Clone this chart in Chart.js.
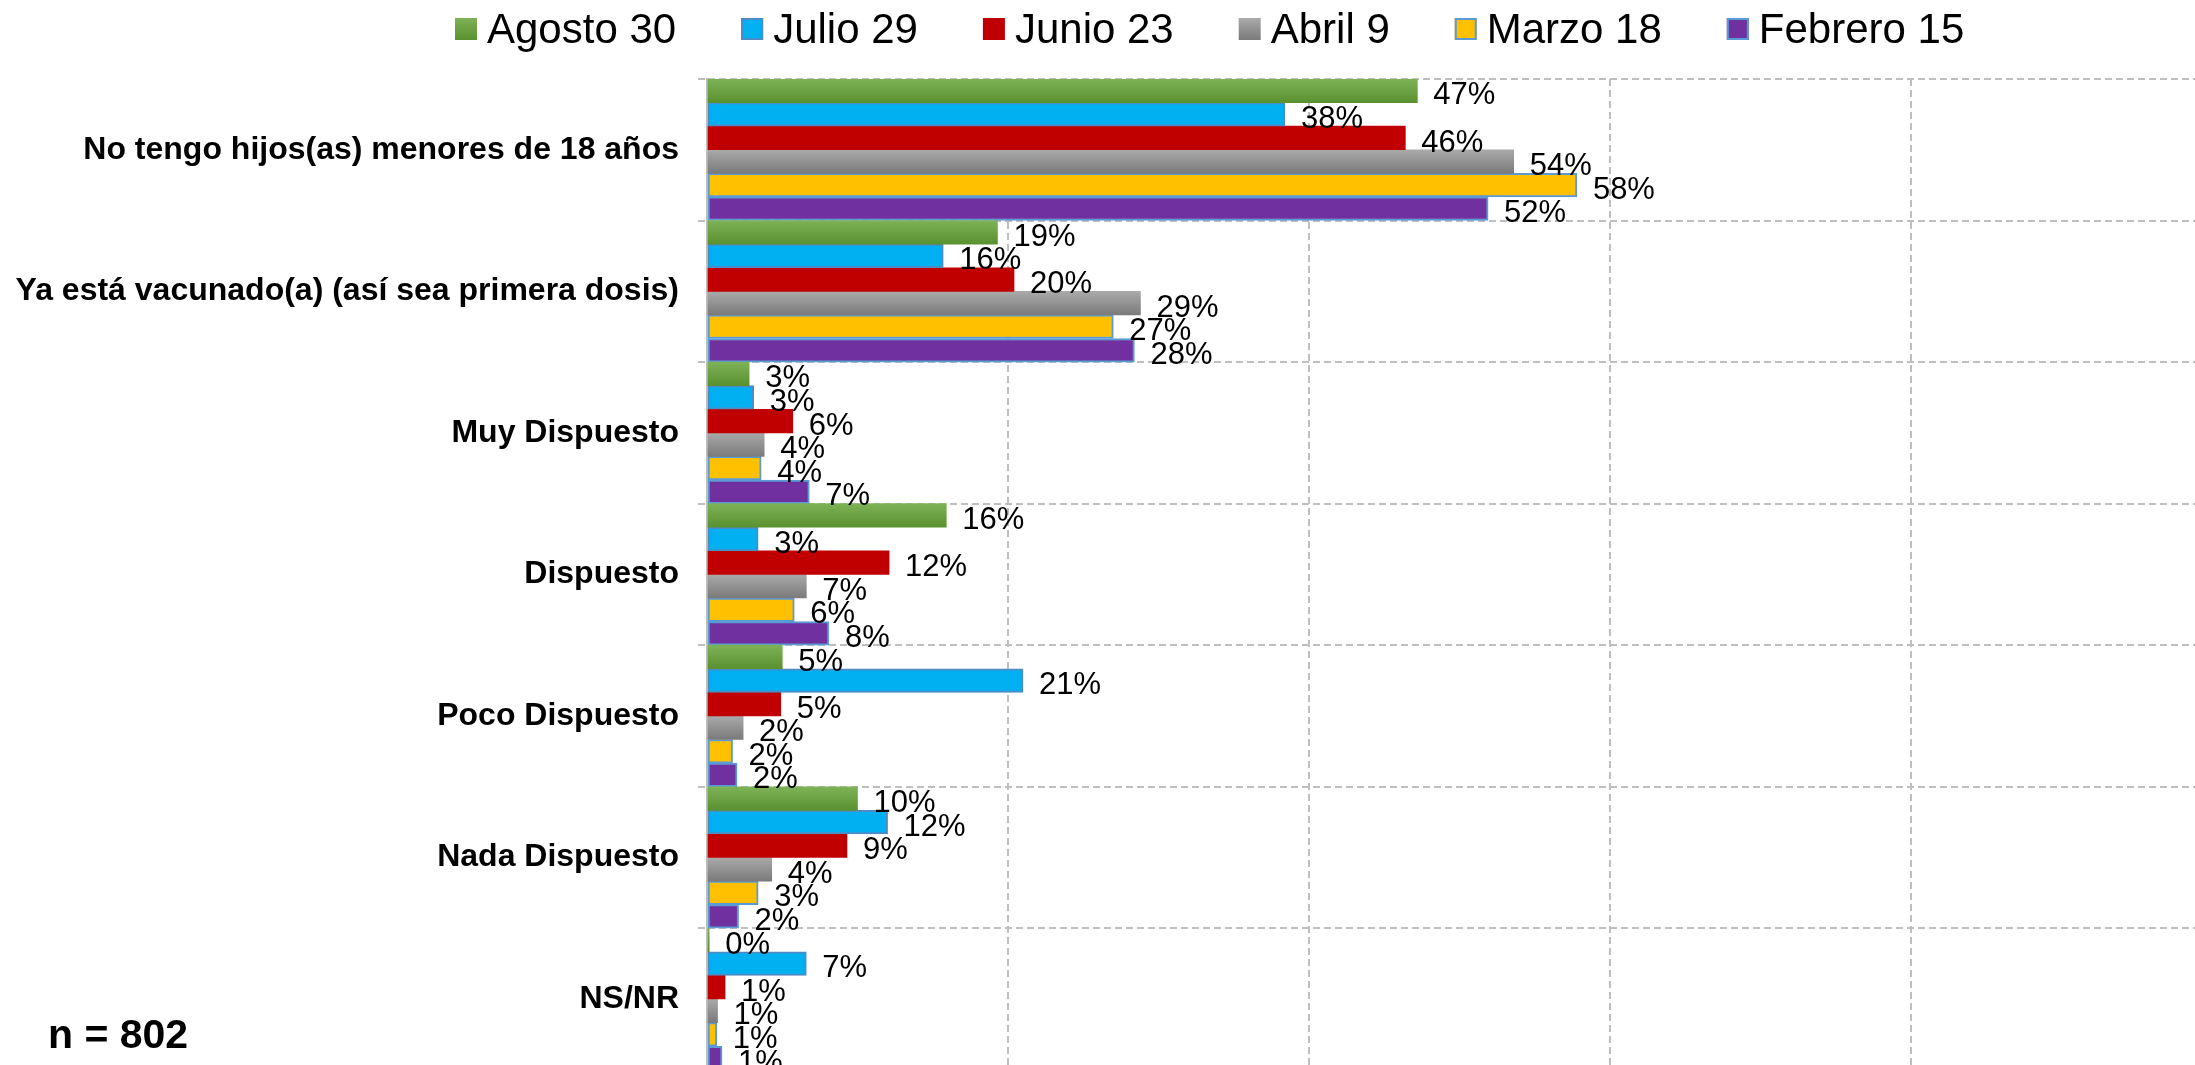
<!DOCTYPE html>
<html>
<head>
<meta charset="utf-8">
<script src="https://cdn.jsdelivr.net/npm/chart.js@4/dist/chart.umd.min.js"></script>
<style>
  html, body { margin: 0; padding: 0; background: #fff; overflow: hidden; }
  canvas { display: block; }
</style>
</head>
<body>
<canvas id="chart" width="2216" height="1108"></canvas>
<script>
// categories (top to bottom)
const categorias = [
    'No tengo hijos(as) menores de 18 años',
    'Ya está vacunado(a) (así sea primera dosis)',
    'Muy Dispuesto',
    'Dispuesto',
    'Poco Dispuesto',
    'Nada Dispuesto',
    'NS/NR'
];

// one array per survey date, values in %
const agosto30 = [47.2, 19.3, 2.8, 15.9, 5.0, 10.0, 0.15];
const julio29  = [38.4, 15.7, 3.1, 3.4, 21.0, 12.0, 6.6];
const junio23  = [46.4, 20.4, 5.7, 12.1, 4.9, 9.3, 1.2];
const abril9   = [53.6, 28.8, 3.8, 6.6, 2.4, 4.3, 0.7];
const marzo18  = [57.8, 27.0, 3.6, 5.8, 1.7, 3.4, 0.65];
const febrero15 = [51.9, 28.4, 6.8, 8.1, 2.0, 2.1, 1.0];

const xTicks = [0, 20, 40, 60, 80, 100];
const muestra = 'n = 802';

const FONT = '"Liberation Sans", Arial, sans-serif';
const GRID = '#BFBFBF';

// vertical gradient per bar, like the office-style shading
function shade(top, bottom) {
    return (ctx) => {
        const chart = ctx.chart;
        const y = chart.scales.y;
        if (!y || ctx.type !== 'data' || top === bottom) return bottom;
        const n = chart.data.datasets.length;
        const cat = (y.bottom - y.top) / categorias.length;
        const y0 = y.getPixelForValue(ctx.dataIndex) - cat / 2 + ctx.datasetIndex * cat / n;
        if (!isFinite(y0) || !isFinite(cat) || cat <= 0) return bottom;
        const g = chart.ctx.createLinearGradient(0, y0, 0, y0 + cat / n);
        g.addColorStop(0, top);
        g.addColorStop(1, bottom);
        return g;
    };
}

const series = [
    {label: 'Agosto 30', data: agosto30, top: '#7DB257', bottom: '#5A912F', border: null},
    {label: 'Julio 29', data: julio29, top: '#00B0F0', bottom: '#00B0F0', border: '#4A8CC6'},
    {label: 'Junio 23', data: junio23, top: '#C00000', bottom: '#C00000', border: null},
    {label: 'Abril 9', data: abril9, top: '#AAAAAA', bottom: '#7A7A7A', border: null},
    {label: 'Marzo 18', data: marzo18, top: '#FFC000', bottom: '#FFC000', border: '#5B9BD5'},
    {label: 'Febrero 15', data: febrero15, top: '#7030A0', bottom: '#7030A0', border: '#5B9BD5'}
];

// value labels to the right of each bar
const etiquetas = {
    id: 'etiquetas',
    afterDatasetsDraw(chart) {
        const ctx = chart.ctx;
        ctx.save();
        ctx.font = '31px ' + FONT;
        ctx.fillStyle = '#000';
        ctx.textAlign = 'left';
        ctx.textBaseline = 'middle';
        chart.data.datasets.forEach((ds, i) => {
            chart.getDatasetMeta(i).data.forEach((bar, j) => {
                ctx.fillText(Math.round(ds.data[j]) + '%', bar.x + 16, bar.y + 5);
            });
        });
        ctx.restore();
    }
};

// legend row on top + sample size note
const leyenda = {
    id: 'leyenda',
    afterDraw(chart) {
        const ctx = chart.ctx;
        ctx.save();
        ctx.font = '42px ' + FONT;
        ctx.textBaseline = 'middle';
        let x = 455;
        series.forEach(s => {
            const g = ctx.createLinearGradient(0, 18, 0, 40);
            g.addColorStop(0, s.top);
            g.addColorStop(1, s.bottom);
            ctx.fillStyle = g;
            ctx.fillRect(x, 18, 22, 22);
            if (s.border) {
                ctx.strokeStyle = s.border;
                ctx.lineWidth = 2;
                ctx.strokeRect(x + 1, 19, 20, 20);
            }
            ctx.fillStyle = '#000';
            ctx.fillText(s.label, x + 32, 31);
            x += 32 + ctx.measureText(s.label).width + 65;
        });

        ctx.font = 'bold 41px ' + FONT;
        ctx.textBaseline = 'alphabetic';
        ctx.fillText(muestra, 48, 1048);
        ctx.restore();
    }
};

const ctx = document.getElementById('chart').getContext('2d');
new Chart(ctx, {
    type: 'bar',
    data: {
        labels: categorias,
        datasets: series.map(s => ({
            label: s.label,
            data: s.data,
            backgroundColor: shade(s.top, s.bottom),
            borderColor: s.border || 'rgba(0,0,0,0)',
            borderWidth: s.border ? 2 : 0,
            borderSkipped: false,
            categoryPercentage: 1,
            barPercentage: 1
        }))
    },
    options: {
        indexAxis: 'y',
        responsive: false,
        animation: false,
        devicePixelRatio: 1,
        layout: {padding: {top: 79, right: 4, bottom: 2, left: 0}},
        plugins: {
            legend: {display: false},
            tooltip: {enabled: false}
        },
        scales: {
            x: {
                min: 0,
                max: 100,
                afterBuildTicks: scale => { scale.ticks = xTicks.map(v => ({value: v})); },
                afterFit: scale => { scale.height = 0; },
                ticks: {display: false},
                grid: {color: GRID, lineWidth: 2, drawTicks: false},
                border: {display: false, dash: [7, 4]}
            },
            y: {
                afterFit: scale => { scale.width = 707; },
                ticks: {
                    color: '#000',
                    padding: 19,
                    font: {family: FONT, size: 32, weight: 'bold'}
                },
                grid: {color: GRID, lineWidth: 2, tickLength: 9, offset: true, tickBorderDash: [7, 4]},
                border: {color: GRID, width: 2, dash: [7, 4]}
            }
        }
    },
    plugins: [etiquetas, leyenda]
});
</script>
</body>
</html>
